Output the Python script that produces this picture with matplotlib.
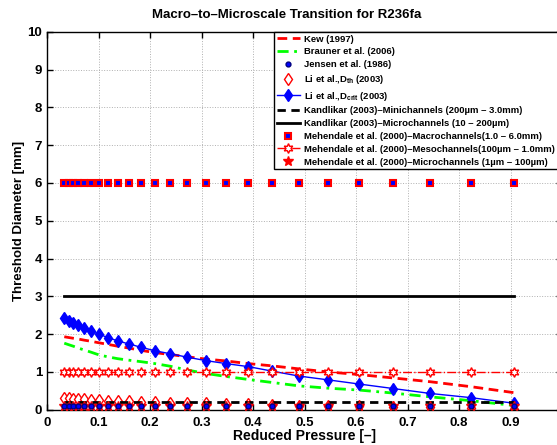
import matplotlib
matplotlib.use("Agg")
import matplotlib.pyplot as plt

plt.rcParams['font.family'] = ['Liberation Sans', 'DejaVu Sans']
plt.rcParams['font.weight'] = 'bold'
plt.rcParams['mathtext.fontset'] = 'custom'
plt.rcParams['mathtext.rm'] = 'Liberation Sans:bold'
plt.rcParams['mathtext.bf'] = 'Liberation Sans:bold'
plt.rcParams['mathtext.it'] = 'Liberation Sans:bold'

# reduced pressure points
pr = [0.0332, 0.0417, 0.0507, 0.0604, 0.0720, 0.0856, 0.1006, 0.1175, 0.1369,
      0.1588, 0.1827, 0.2093, 0.2390, 0.2720, 0.3078, 0.3472, 0.3905, 0.4371,
      0.4889, 0.5452, 0.6054, 0.6720, 0.7439, 0.8223, 0.9070]

kew = [1.93, 1.91, 1.89, 1.87, 1.84, 1.81, 1.77, 1.73, 1.68, 1.63, 1.57, 1.51,
       1.46, 1.40, 1.34, 1.29, 1.22, 1.16, 1.08, 1.00, 0.93, 0.84, 0.74, 0.61, 0.45]
brauner = [1.76, 1.72, 1.68, 1.63, 1.58, 1.52, 1.45, 1.40, 1.35, 1.31, 1.27, 1.22,
           1.15, 1.05, 0.96, 0.88, 0.80, 0.72, 0.63, 0.57, 0.52, 0.44, 0.34, 0.24, 0.11]
jensen = [0.11, 0.11, 0.11, 0.11, 0.11, 0.11, 0.11, 0.11, 0.10, 0.10, 0.10, 0.10,
          0.10, 0.10, 0.10, 0.10, 0.10, 0.10, 0.10, 0.10, 0.10, 0.10, 0.10, 0.10, 0.10]
li_dth = [0.31, 0.30, 0.29, 0.29, 0.28, 0.26, 0.26, 0.24, 0.23, 0.22, 0.21, 0.20,
          0.19, 0.18, 0.17, 0.16, 0.15, 0.13, 0.11, 0.10, 0.09, 0.07, 0.06, 0.04, 0.02]
li_dcrit = [2.42, 2.36, 2.30, 2.23, 2.15, 2.07, 2.00, 1.91, 1.82, 1.74, 1.65, 1.56,
            1.48, 1.39, 1.30, 1.22, 1.14, 1.02, 0.89, 0.79, 0.68, 0.56, 0.43, 0.32, 0.17]
kand_mini = 0.2
kand_micro = 3.0
meh_macro = 6.0
meh_meso = 1.0
meh_micro = 0.1

fig = plt.figure(figsize=(5.57, 4.45), dpi=100)
ax = fig.add_axes([0.0847, 0.0793, 0.9246, 0.8494])

n = len(pr)
ax.plot(pr, kew, 'r--', lw=2, dashes=(3.5, 2), label='Kew (1997)')
ax.plot(pr, brauner, '-.', color='#00ff00', lw=2, dashes=(4, 2, 1, 2), label='Brauner et al. (2006)')
ax.plot(pr, jensen, 'o', mfc='blue', mec='#000080', ms=3.5, ls='none', zorder=6,
        label='Jensen et al. (1986)')
ax.plot(pr, li_dth, 'd', mfc='white', mec='red', ms=6, mew=1, ls='none',
        label='Li et al.,D$_{th}$ (2003)')
ax.plot(pr, li_dcrit, '-d', color='blue', lw=1, ms=6.5,
        label='Li et al.,D$_{crit}$ (2003)')
ax.plot(pr, [kand_mini] * n, 'k--', lw=2, dashes=(3, 2),
        label='Kandlikar (2003)–Minichannels (200µm – 3.0mm)')
ax.plot(pr, [kand_micro] * n, 'k-', lw=2,
        label='Kandlikar (2003)–Microchannels (10 – 200µm)')
ax.plot(pr, [meh_macro] * n, 's', mfc='blue', mec='red', ms=5, mew=1.5, ls='none',
        label='Mehendale et al. (2000)–Macrochannels(1.0 – 6.0mm)')
ax.plot(pr, [meh_meso] * n, color='red', ls='-.', lw=1, marker=(6, 1, 0), ms=7,
        mfc='white', mec='red', mew=1,
        label='Mehendale et al. (2000)–Mesochannels(100µm – 1.0mm)')
ax.plot(pr, [meh_micro] * n, '*', color='red', ms=7, ls='none', zorder=5,
        label='Mehendale et al. (2000)–Microchannels (1µm – 100µm)')

ax.set_xlim(0, 1)
ax.set_ylim(0, 10)
ax.set_xticks([i / 10 for i in range(11)])
# the axes run past the right edge, so the last label is not shown
ax.set_xticklabels(['0', '0.1', '0.2', '0.3', '0.4', '0.5', '0.6', '0.7', '0.8', '0.9', ''])
ax.set_yticks(range(11))
ax.tick_params(direction='in', top=True, right=True, length=4, labelsize=9.5, width=1)
ax.tick_params(axis='x', pad=5)
for lab in ax.get_xticklabels() + ax.get_yticklabels():
    lab.set_fontweight('bold')
ax.grid(True, ls=':', color='#b0b0b0', lw=0.7)
for sp in ax.spines.values():
    sp.set_linewidth(1)

fig.text(287 / 557, 1 - 15 / 445, 'Macro–to–Microscale Transition for R236fa',
         ha='center', va='center', fontsize=9.5, fontweight='bold')
ax.set_xlabel('Reduced Pressure [–]', fontsize=10, fontweight='bold', labelpad=0)
ax.set_ylabel('Threshold Diameter [mm]', fontsize=9.5, fontweight='bold', labelpad=2)

leg = ax.legend(loc='upper left', bbox_to_anchor=(0.44, 1.0), borderaxespad=0,
                fontsize=6.8, fancybox=False, framealpha=1, edgecolor='black',
                labelspacing=0.4, handlelength=2.5, handletextpad=0.4,
                borderpad=0.3)
leg.get_frame().set_linewidth(1)

fig.savefig('out.png', dpi=100)
